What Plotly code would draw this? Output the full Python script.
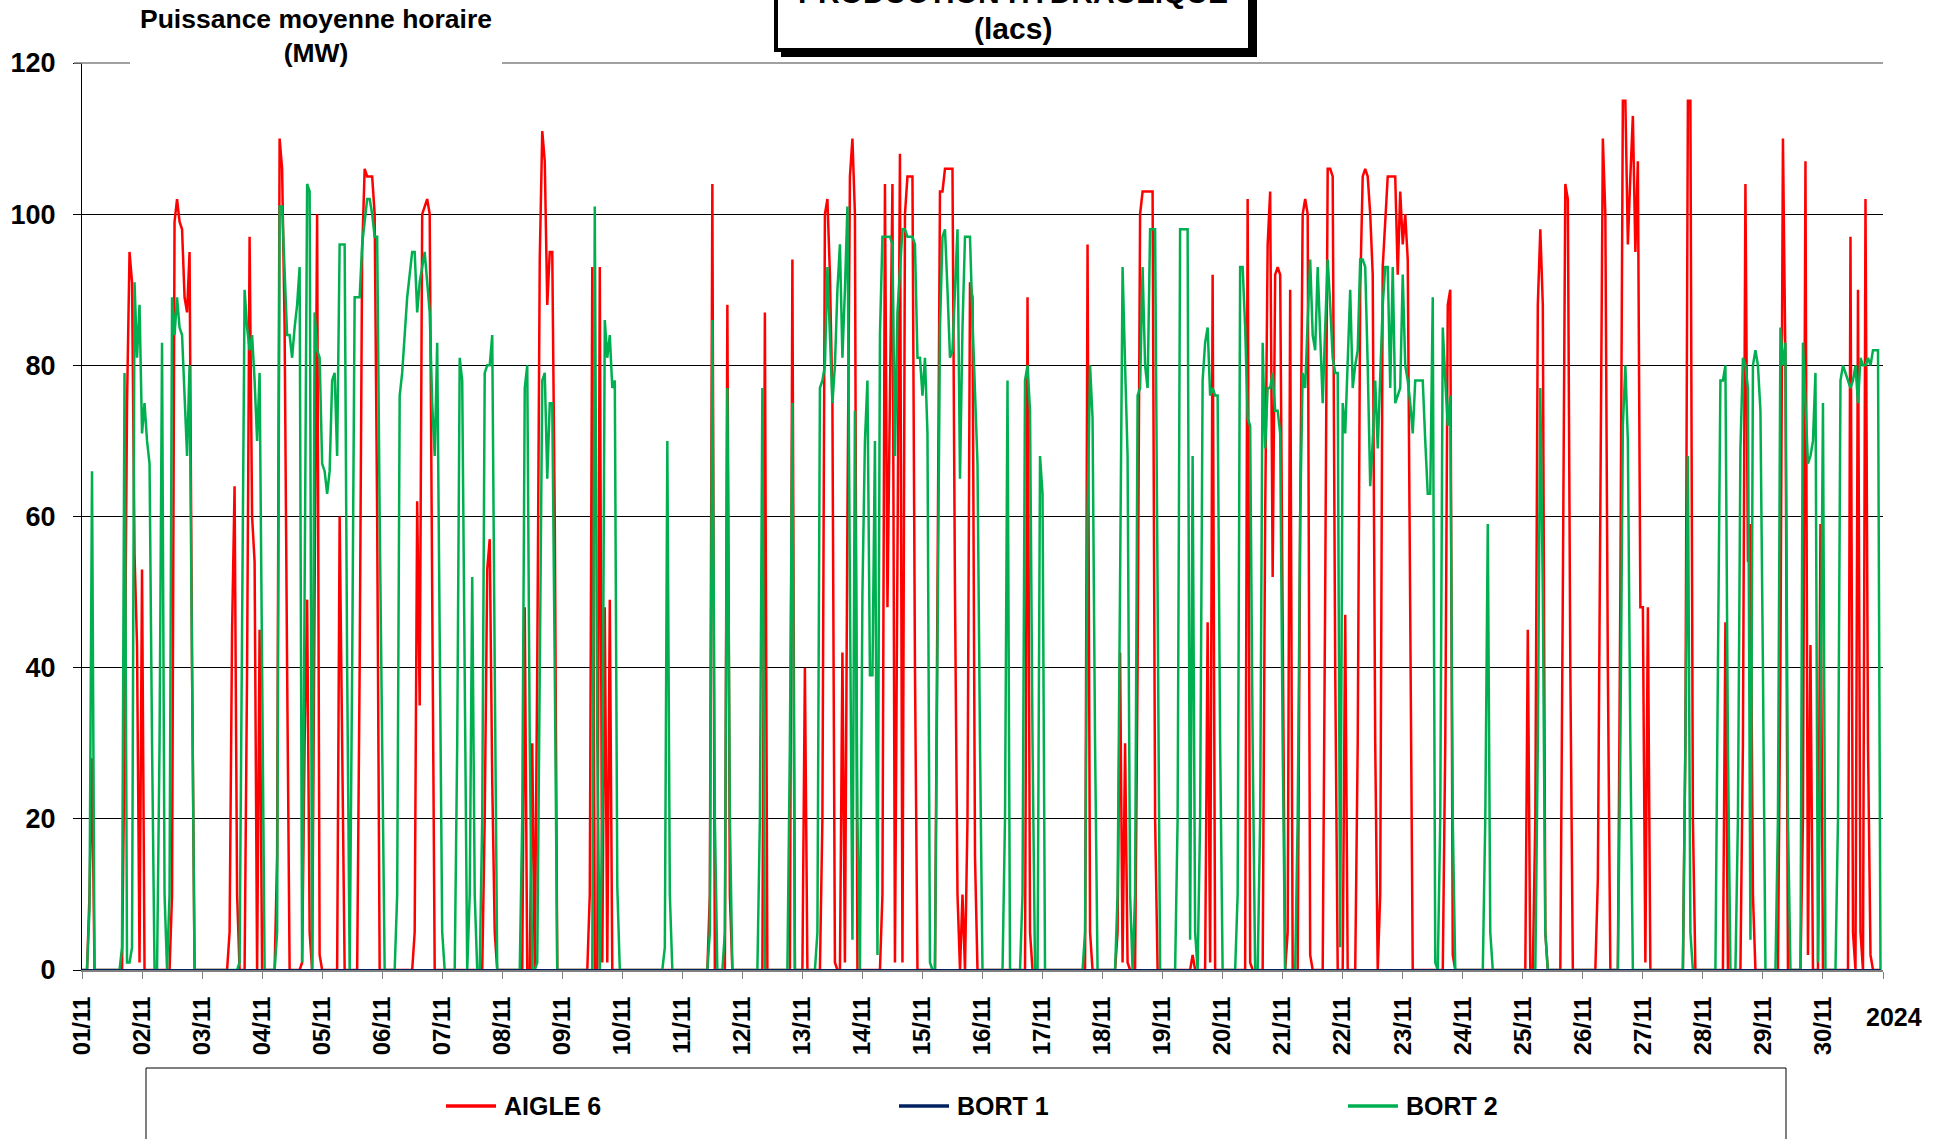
import pandas as pd
import plotly.graph_objects as go

# ---------------- data (hourly mean power, MW) ----------------
days = [f"{d:02d}/11" for d in range(1, 31)]

aigle6_by_day = [
    [0,0,0,10,28,0,0,0,0,0,0,0,0,0,0,0,0,30,75,95,91,55,43,1],
    [53,0,0,0,0,0,0,0,0,0,0,0,10,99,102,99,98,89,87,95,40,0,0,0],
    [0,0,0,0,0,0,0,0,0,0,0,5,45,64,10,0,0,0,40,97,60,54,0,45],
    [0,0,0,0,0,0,15,110,106,85,40,0,0,0,0,0,1,30,49,5,0,50,100,2],
    [0,0,0,0,0,0,0,60,30,0,0,0,0,0,0,40,95,106,105,105,105,100,60,0],
    [0,0,0,0,0,0,0,0,0,0,0,0,0,5,62,35,100,101,102,100,50,0,0,0],
    [0,0,0,0,0,0,0,0,0,0,0,0,0,0,0,0,0,20,53,57,25,5,0,0],
    [0,0,0,0,0,0,0,0,0,48,0,0,30,0,40,94,111,107,88,95,95,60,0,0],
    [0,0,0,0,0,0,0,0,0,0,0,10,93,0,0,93,1,48,1,49,0,0,0,0],
    [0,0,0,0,0,0,0,0,0,0,0,0,0,0,0,0,0,0,0,0,0,0,0,0],
    [0,0,0,0,0,0,0,0,0,0,0,10,104,0,0,0,0,0,88,10,0,0,0,0],
    [0,0,0,0,0,0,0,0,0,87,0,0,0,0,0,0,0,0,0,0,94,0,0,0],
    [0,40,0,0,0,0,0,0,20,100,102,92,75,1,0,0,42,1,60,105,110,100,0,0],
    [0,0,0,0,0,0,0,0,10,104,48,80,104,1,50,108,1,100,105,105,105,40,0,0],
    [0,0,0,0,0,0,50,103,103,106,106,106,106,50,10,0,10,0,20,91,89,15,0,0],
    [0,0,0,0,0,0,0,0,0,0,0,0,0,0,0,0,0,0,89,5,0,0,0,0],
    [0,0,0,0,0,0,0,0,0,0,0,0,0,0,0,0,0,0,96,5,0,0,0,0],
    [0,0,0,0,0,0,5,42,1,30,1,0,0,0,40,100,103,103,103,103,103,20,0,0],
    [0,0,0,0,0,0,0,0,0,0,0,0,2,0,0,0,0,0,46,1,92,0,0,0],
    [0,0,0,0,0,0,0,0,0,0,102,1,0,0,0,0,0,60,96,103,52,92,93,92],
    [40,0,5,90,0,0,0,60,100,102,100,2,0,0,0,0,0,50,106,106,105,40,0,0],
    [0,47,0,0,0,0,30,90,105,106,105,100,92,30,0,10,93,100,105,105,105,105,92,103],
    [96,100,94,40,0,0,0,0,0,0,0,0,0,0,0,0,0,30,88,90,2,0,0,0],
    [0,0,0,0,0,0,0,0,0,0,0,0,0,0,0,0,0,0,0,0,0,0,0,0],
    [0,0,45,0,0,20,88,98,88,5,0,0,0,0,0,0,50,104,102,40,0,0,0,0],
    [0,0,0,0,0,0,12,60,110,100,40,0,0,0,0,50,115,115,96,105,113,95,107,48],
    [48,1,48,0,0,0,0,0,0,0,0,0,0,0,0,0,0,30,115,115,20,0,0,0],
    [0,0,0,0,0,0,0,0,0,46,0,0,0,0,0,0,30,104,54,59,10,0,0,0],
    [0,0,0,0,0,0,0,40,110,80,0,0,0,0,0,0,20,107,2,43,0,0,0,59],
    [0,0,0,0,0,0,0,0,0,0,0,97,5,0,90,5,0,102,30,2,0,0,0,0],
]

bort2_by_day = [
    [0,0,0,8,66,0,0,0,0,0,0,0,0,0,0,0,3,79,1,1,3,91,81,88],
    [71,75,70,67,30,0,0,30,83,10,0,10,89,84,89,85,84,75,68,80,40,0,0,0],
    [0,0,0,0,0,0,0,0,0,0,0,0,0,0,0,1,40,90,85,82,84,78,70,79],
    [40,0,0,0,0,0,5,101,101,92,84,84,81,85,88,93,1,50,104,103,0,87,82,81],
    [67,66,63,66,78,79,68,96,96,96,40,0,40,89,89,89,96,99,102,102,100,97,97,60],
    [30,0,0,0,0,0,10,76,79,84,89,92,95,95,87,91,93,95,91,87,75,68,83,40],
    [5,0,0,0,0,0,30,81,78,40,0,10,52,10,0,0,20,79,80,80,84,40,0,0],
    [0,0,0,0,0,0,0,0,20,77,80,30,0,0,1,40,78,79,65,75,75,40,0,0],
    [0,0,0,0,0,0,0,0,0,0,0,0,0,101,30,0,20,86,81,84,77,78,11,0],
    [0,0,0,0,0,0,0,0,0,0,0,0,0,0,0,0,0,3,70,10,0,0,0,0],
    [0,0,0,0,0,0,0,0,0,0,0,5,86,20,0,0,0,5,77,20,0,0,0,0],
    [0,0,0,0,0,0,0,20,77,0,0,0,0,0,0,0,0,0,0,30,75,0,0,0],
    [0,0,0,0,0,0,5,77,78,80,93,85,75,80,90,96,81,90,101,50,4,74,20,0],
    [50,70,78,39,39,70,2,84,97,97,97,97,96,68,87,93,98,98,97,97,97,96,81,81],
    [76,81,71,1,0,0,40,85,97,98,90,81,82,90,98,65,85,97,97,97,86,75,67,30],
    [0,0,0,0,0,0,0,0,0,20,78,0,0,0,0,0,10,78,80,74,30,0,0,68],
    [63,0,0,0,0,0,0,0,0,0,0,0,0,0,0,0,0,5,60,80,73,30,0,0],
    [0,0,0,0,0,0,10,50,93,80,68,10,0,10,76,77,93,80,77,98,98,98,50,0],
    [0,0,0,0,0,0,20,98,98,98,98,4,68,5,0,20,78,83,85,76,77,76,76,30],
    [0,0,0,0,0,0,10,93,93,85,73,72,30,0,0,20,83,69,77,77,79,74,74,71],
    [30,0,0,0,0,0,20,60,79,77,86,94,84,82,93,84,75,85,94,88,81,79,79,3],
    [75,71,80,90,77,80,82,94,94,93,80,64,70,78,69,80,88,93,93,77,93,75,76,77],
    [92,80,78,75,71,78,78,78,78,70,63,63,89,1,0,20,85,78,72,76,20,0,0,0],
    [0,0,0,0,0,0,0,0,0,20,59,5,0,0,0,0,0,0,0,0,0,0,0,0],
    [0,0,0,0,0,0,30,77,50,5,0,0,0,0,0,0,0,0,0,0,0,0,0,0],
    [0,0,0,0,0,0,0,0,0,0,0,0,0,0,0,30,72,80,70,30,0,0,0,0],
    [0,0,0,0,0,0,0,0,0,0,0,0,0,0,0,0,0,30,68,5,0,0,0,0],
    [0,0,0,0,0,0,40,78,78,80,30,0,0,0,20,69,81,80,77,4,80,82,80,74],
    [40,0,0,0,0,0,20,85,80,83,20,0,0,0,0,0,83,75,67,68,70,79,1,30],
    [75,0,0,0,0,0,20,78,80,79,78,77,78,80,75,81,80,80,81,80,82,82,82,0],
]

bort1_by_day = [[0] * 24 for _ in range(30)]

aigle6 = [v for day in aigle6_by_day for v in day]
bort1 = [v for day in bort1_by_day for v in day]
bort2 = [v for day in bort2_by_day for v in day]
times = pd.date_range("2024-11-01 00:00", periods=len(aigle6), freq="h")

series_names = ["AIGLE 6", "BORT 1", "BORT 2"]
series_colors = ["#FF0000", "#002060", "#00B050"]

# ---------------- figure ----------------
W, H = 1944, 1139
L, R, T, B = 82, 61, 63, 169
PW, PH = W - L - R, H - T - B
FONT = "Liberation Sans, Arial, sans-serif"


def px(x):
    return (x - L) / PW


def py(y):
    return (H - B - y) / PH


fig = go.Figure()
fig.add_trace(go.Scatter(x=times, y=aigle6, mode="lines", name=series_names[0],
                         line=dict(color=series_colors[0], width=2.5), showlegend=False))
fig.add_trace(go.Scatter(x=times, y=bort2, mode="lines", name=series_names[2],
                         line=dict(color=series_colors[2], width=2.5), showlegend=False))
fig.add_trace(go.Scatter(x=times, y=bort1, mode="lines", name=series_names[1],
                         line=dict(color=series_colors[1], width=2), showlegend=False))

tickvals = list(pd.date_range("2024-11-01", periods=31, freq="D"))
ticktext = days + [""]

fig.update_layout(
    width=W, height=H,
    margin=dict(l=L, r=R, t=T, b=B, autoexpand=False),
    paper_bgcolor="white", plot_bgcolor="white",
    font=dict(family=FONT, color="black"),
    xaxis=dict(
        type="date", automargin=False,
        range=[times[0], pd.Timestamp("2024-12-01 00:00")],
        tickvals=tickvals, ticktext=ticktext, tickangle=-90,
        tickfont=dict(size=24, weight="bold", family=FONT, color="black"),
        ticks="outside", ticklen=7, tickcolor="#808080", tickwidth=1,
        showline=True, linecolor="#808080", linewidth=2,
        showgrid=False, zeroline=False, ticklabelstandoff=8,
    ),
    yaxis=dict(
        range=[0, 120], dtick=20, tick0=0, automargin=False,
        tickfont=dict(size=27, weight="bold", family=FONT, color="black"),
        ticks="outside", ticklen=8, tickcolor="black", tickwidth=1,
        showline=True, linecolor="black", linewidth=1,
        showgrid=True, gridcolor="black", gridwidth=1,
        zeroline=False, ticklabelstandoff=12,
    ),
)

shapes = []
# cover the 120 gridline behind the unit label and redraw it in grey
shapes.append(dict(type="rect", xref="paper", yref="paper",
                   x0=px(130), x1=px(502), y0=py(68), y1=py(0),
                   fillcolor="white", line=dict(width=0), layer="above"))
shapes.append(dict(type="line", xref="paper", yref="paper",
                   x0=px(74), x1=px(130), y0=1, y1=1,
                   line=dict(color="#808080", width=1.5), layer="above"))
shapes.append(dict(type="line", xref="paper", yref="paper",
                   x0=px(502), x1=1, y0=1, y1=1,
                   line=dict(color="#808080", width=1.5), layer="above"))
# title box with shadow
shapes.append(dict(type="rect", xref="paper", yref="paper",
                   x0=px(781), x1=px(1257), y0=py(57), y1=py(-30),
                   fillcolor="black", line=dict(width=0), layer="above"))
shapes.append(dict(type="rect", xref="paper", yref="paper",
                   x0=px(776), x1=px(1250), y0=py(50), y1=py(-30),
                   fillcolor="white", line=dict(color="black", width=4), layer="above"))
# legend box
shapes.append(dict(type="rect", xref="paper", yref="paper",
                   x0=px(146), x1=px(1786), y0=py(1160), y1=py(1068),
                   fillcolor="rgba(0,0,0,0)", line=dict(color="black", width=1), layer="above"))

legend_x = [446, 899, 1348]
for name, color, lx in zip(series_names, series_colors, legend_x):
    shapes.append(dict(type="line", xref="paper", yref="paper",
                       x0=px(lx), x1=px(lx + 50), y0=py(1106), y1=py(1106),
                       line=dict(color=color, width=3.5), layer="above"))

annotations = [
    dict(text="<b>Puissance moyenne horaire<br>(MW)</b>", xref="paper", yref="paper",
         x=px(316), y=py(36), xanchor="center", yanchor="middle", showarrow=False,
         font=dict(size=26.5, family=FONT, color="black")),
    dict(text="<b>PRODUCTION HYDRAULIQUE</b>", xref="paper", yref="paper",
         x=px(1013), y=py(-8), xanchor="center", yanchor="middle", showarrow=False,
         font=dict(size=30, family=FONT, color="black")),
    dict(text="<b>(lacs)</b>", xref="paper", yref="paper",
         x=px(1013), y=py(28), xanchor="center", yanchor="middle", showarrow=False,
         font=dict(size=30, family=FONT, color="black")),
    dict(text="<b>2024</b>", xref="paper", yref="paper",
         x=px(1894), y=py(1017), xanchor="center", yanchor="middle", showarrow=False,
         font=dict(size=25, family=FONT, color="black")),
]
for name, lx in zip(series_names, legend_x):
    annotations.append(dict(text=f"<b>{name}</b>", xref="paper", yref="paper",
                            x=px(lx + 56), y=py(1106), xanchor="left", yanchor="middle",
                            showarrow=False, font=dict(size=25, family=FONT, color="black")))

fig.update_layout(shapes=shapes, annotations=annotations)
fig.write_html(
    "out.html",
    config={"displayModeBar": False},
    post_script="document.body.style.margin='0px';document.body.style.overflow='hidden';",
)
